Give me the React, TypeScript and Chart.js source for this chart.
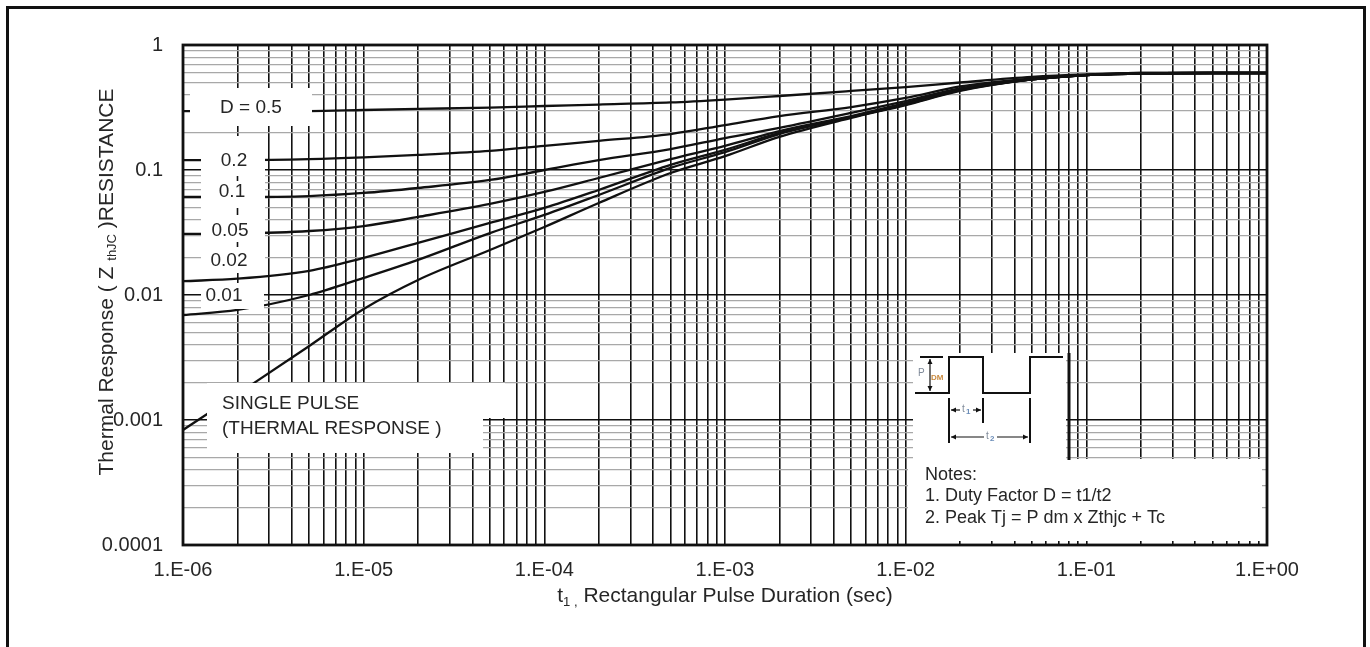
import React, { useEffect, useRef } from 'react';
import { Chart, registerables } from 'chart.js';

Chart.register(...registerables);

// ---------- data ----------
const pulseDurations = [1e-6, 2e-6, 5e-6, 1e-5, 2e-5, 5e-5, 1e-4, 2e-4, 5e-4, 1e-3, 2e-3, 5e-3, 1e-2, 2e-2, 5e-2, 1e-1, 2e-1, 5e-1, 1];

const zD050 = [0.296, 0.296, 0.296, 0.302, 0.308, 0.316, 0.325, 0.334, 0.347, 0.366, 0.391, 0.429, 0.461, 0.501, 0.555, 0.581, 0.597, 0.597, 0.597];
const zD020 = [0.120, 0.120, 0.122, 0.126, 0.132, 0.142, 0.156, 0.171, 0.194, 0.229, 0.270, 0.319, 0.377, 0.466, 0.540, 0.575, 0.597, 0.597, 0.597];
const zD010 = [0.0608, 0.0608, 0.0619, 0.0655, 0.0718, 0.0832, 0.100, 0.120, 0.147, 0.180, 0.217, 0.286, 0.356, 0.449, 0.530, 0.575, 0.592, 0.597, 0.597];
const zD005 = [0.0308, 0.0310, 0.0325, 0.0356, 0.0421, 0.0535, 0.0667, 0.0863, 0.122, 0.156, 0.205, 0.270, 0.344, 0.441, 0.530, 0.575, 0.592, 0.597, 0.597];
const zD002 = [0.0129, 0.0135, 0.0156, 0.0198, 0.0261, 0.0377, 0.0497, 0.0692, 0.110, 0.145, 0.198, 0.265, 0.337, 0.437, 0.530, 0.575, 0.592, 0.597, 0.597];
const zD001 = [0.00692, 0.00759, 0.0100, 0.0137, 0.0191, 0.0313, 0.0437, 0.0631, 0.104, 0.139, 0.194, 0.265, 0.334, 0.433, 0.530, 0.575, 0.592, 0.597, 0.597];
const zSingle = [0.000832, 0.00161, 0.00391, 0.00773, 0.0132, 0.0229, 0.0350, 0.0545, 0.0946, 0.129, 0.184, 0.261, 0.331, 0.429, 0.530, 0.575, 0.592, 0.597, 0.597];

const seriesNames = ['D = 0.5', '0.2', '0.1', '0.05', '0.02', '0.01', 'SINGLE PULSE'];
const seriesValues = [zD050, zD020, zD010, zD005, zD002, zD001, zSingle];

const xDecades = [1e-6, 1e-5, 1e-4, 1e-3, 1e-2, 1e-1, 1];
const xTickLabels = ['1.E-06', '1.E-05', '1.E-04', '1.E-03', '1.E-02', '1.E-01', '1.E+00'];
const yDecades = [1e-4, 1e-3, 1e-2, 1e-1, 1];
const yTickLabels = ['0.0001', '0.001', '0.01', '0.1', '1'];

const xTitleMain = 't';
const xTitleSub = '1 ,';
const xTitleRest = ' Rectangular Pulse Duration (sec)';
const yTitleA = 'Thermal Response ( Z ';
const yTitleSub = 'thJC';
const yTitleB = ' )RESISTANCE';
const singlePulseText = ['SINGLE PULSE', '(THERMAL RESPONSE )'];
const notesText = ['Notes:', '1. Duty Factor D = t1/t2', '2. Peak Tj = P dm x Zthjc + Tc'];

// ---------- helpers ----------
const FONT = '"Liberation Sans", Arial, Helvetica, sans-serif';
const TEXT = '#262626';

function logTicks(decades: number[]) {
  const out: { value: number }[] = [];
  for (let i = 0; i < decades.length - 1; i++) {
    for (let k = 1; k <= 9; k++) out.push({ value: decades[i] * k });
  }
  out.push({ value: decades[decades.length - 1] });
  return out;
}
function decadeIndex(v: number, decades: number[]) {
  return decades.findIndex((d) => Math.abs(Math.log10(v) - Math.log10(d)) < 1e-6);
}

const overlayPlugin = {
  id: 'overlay',
  afterDatasetsDraw(chart: any) {
    const ctx = chart.ctx as CanvasRenderingContext2D;
    const xs = chart.scales.x;
    ctx.save();
    // white label boxes covering grid and curves
    ctx.fillStyle = '#ffffff';
    ctx.fillRect(190, 88, 122, 38); // D = 0.5
    ctx.fillRect(201, 136, 64, 137); // 0.2 .. 0.02 column
    ctx.fillRect(201, 283, 63, 26); // 0.01
    ctx.fillRect(207, 383, 298, 35); // single pulse (upper)
    ctx.fillRect(207, 418, 276, 35); // single pulse (lower)
    ctx.fillRect(913, 353, 153, 107); // pulse diagram
    ctx.fillRect(908, 459, 354, 82); // notes

    // short grid pieces visible between the labels
    const x2 = Math.round(xs.getPixelForValue(2e-6)) + 0.5;
    ctx.strokeStyle = '#111';
    ctx.lineWidth = 1.6;
    [[176, 181], [208, 215], [242, 247]].forEach(([a, b]) => {
      ctx.beginPath();
      ctx.moveTo(x2, a);
      ctx.lineTo(x2, b);
      ctx.stroke();
    });

    // curve labels
    ctx.fillStyle = TEXT;
    ctx.font = `19px ${FONT}`;
    ctx.textAlign = 'center';
    ctx.textBaseline = 'middle';
    const labelPos = [[251, 108], [234, 161], [232, 192], [230, 231], [229, 261], [224, 296]];
    labelPos.forEach(([lx, ly], i) => ctx.fillText(seriesNames[i], lx, ly));
    ctx.textAlign = 'left';
    ctx.fillText(singlePulseText[0], 222, 404);
    ctx.fillText(singlePulseText[1], 222, 429);

    // notes
    ctx.font = `18px ${FONT}`;
    ctx.fillText(notesText[0], 925, 475);
    ctx.fillText(notesText[1], 925, 496);
    ctx.fillText(notesText[2], 925, 518);

    // pulse diagram
    ctx.strokeStyle = '#111';
    ctx.lineWidth = 2;
    ctx.beginPath();
    ctx.moveTo(915, 393);
    ctx.lineTo(949, 393);
    ctx.lineTo(949, 357);
    ctx.lineTo(983, 357);
    ctx.lineTo(983, 393);
    ctx.lineTo(1030, 393);
    ctx.lineTo(1030, 357);
    ctx.lineTo(1063, 357);
    ctx.stroke();
    ctx.beginPath();
    ctx.moveTo(920, 357);
    ctx.lineTo(943, 357);
    ctx.moveTo(949, 398);
    ctx.lineTo(949, 443);
    ctx.moveTo(983, 398);
    ctx.lineTo(983, 423);
    ctx.moveTo(1030, 398);
    ctx.lineTo(1030, 443);
    ctx.stroke();
    const x8 = Math.round(xs.getPixelForValue(0.08));
    ctx.lineWidth = 3;
    ctx.beginPath();
    ctx.moveTo(x8, 353);
    ctx.lineTo(x8, 460);
    ctx.stroke();
    // dimension arrows
    ctx.lineWidth = 1.2;
    const arrowH = (x0: number, x1: number, y: number) => {
      ctx.beginPath();
      ctx.moveTo(x0, y);
      ctx.lineTo(x1, y);
      ctx.stroke();
      ctx.beginPath();
      ctx.moveTo(x0, y); ctx.lineTo(x0 + 5, y - 2.5); ctx.lineTo(x0 + 5, y + 2.5); ctx.closePath();
      ctx.moveTo(x1, y); ctx.lineTo(x1 - 5, y - 2.5); ctx.lineTo(x1 - 5, y + 2.5); ctx.closePath();
      ctx.fillStyle = '#111';
      ctx.fill();
    };
    const arrowV = (x: number, y0: number, y1: number) => {
      ctx.beginPath();
      ctx.moveTo(x, y0);
      ctx.lineTo(x, y1);
      ctx.stroke();
      ctx.beginPath();
      ctx.moveTo(x, y0); ctx.lineTo(x - 2.5, y0 + 5); ctx.lineTo(x + 2.5, y0 + 5); ctx.closePath();
      ctx.moveTo(x, y1); ctx.lineTo(x - 2.5, y1 - 5); ctx.lineTo(x + 2.5, y1 - 5); ctx.closePath();
      ctx.fillStyle = '#111';
      ctx.fill();
    };
    arrowV(930, 359, 391);
    arrowH(951, 981, 410);
    arrowH(951, 1028, 437);
    // tiny coloured labels
    ctx.fillStyle = '#ffffff';
    ctx.fillRect(960, 404, 13, 11);
    ctx.fillRect(984, 431, 13, 11);
    ctx.textAlign = 'left';
    ctx.textBaseline = 'middle';
    ctx.font = `10px ${FONT}`;
    ctx.fillStyle = '#7f8a99';
    ctx.fillText('P', 918, 373);
    ctx.fillText('t', 962, 409);
    ctx.fillText('t', 986, 436);
    ctx.font = `bold 8px ${FONT}`;
    ctx.fillStyle = '#c98a3e';
    ctx.fillText('DM', 931, 378);
    ctx.fillStyle = '#6a8cb8';
    ctx.fillText('1', 966, 412);
    ctx.fillText('2', 990, 439);
    ctx.restore();
  },
  afterDraw(chart: any) {
    const ctx = chart.ctx as CanvasRenderingContext2D;
    const { left, top, right, bottom } = chart.chartArea;
    ctx.save();
    // plot frame
    ctx.strokeStyle = '#111';
    ctx.lineWidth = 2.8;
    ctx.strokeRect(left, top, right - left, bottom - top);
    // outer figure border
    ctx.lineWidth = 3;
    ctx.strokeRect(7.5, 7.5, 1357, 700);

    // x axis title
    ctx.fillStyle = TEXT;
    ctx.textBaseline = 'alphabetic';
    ctx.textAlign = 'left';
    const big = `21px ${FONT}`;
    const small = `13px ${FONT}`;
    ctx.font = big;
    const wT = ctx.measureText(xTitleMain).width;
    const wR = ctx.measureText(xTitleRest).width;
    ctx.font = small;
    const wS = ctx.measureText(xTitleSub).width;
    const total = wT + wS + wR;
    const cx = (left + right) / 2;
    let px = cx - total / 2;
    const base = 602;
    ctx.font = big;
    ctx.fillText(xTitleMain, px, base);
    px += wT;
    ctx.font = small;
    ctx.fillText(xTitleSub, px, base + 4);
    px += wS;
    ctx.font = big;
    ctx.fillText(xTitleRest, px, base);

    // y axis title (rotated)
    ctx.save();
    ctx.translate(113, 282);
    ctx.rotate(-Math.PI / 2);
    ctx.font = big;
    const wA = ctx.measureText(yTitleA).width;
    const wB = ctx.measureText(yTitleB).width;
    ctx.font = small;
    const wSub = ctx.measureText(yTitleSub).width;
    let p = -(wA + wSub + wB) / 2;
    ctx.font = big;
    ctx.fillText(yTitleA, p, 0);
    p += wA;
    ctx.font = small;
    ctx.fillText(yTitleSub, p, 3);
    p += wSub;
    ctx.font = big;
    ctx.fillText(yTitleB, p, 0);
    ctx.restore();

    ctx.restore();
  },
};

export default function App() {
  const canvasRef = useRef<HTMLCanvasElement | null>(null);

  useEffect(() => {
    document.body.style.margin = '0';
    const canvas = canvasRef.current;
    if (!canvas) return;

    const datasets = seriesValues.map((vals, i) => ({
      label: seriesNames[i],
      data: pulseDurations.map((t, j) => ({ x: t, y: vals[j] })),
      borderColor: '#111111',
      backgroundColor: '#111111',
      borderWidth: 2.3,
      pointRadius: 0,
      cubicInterpolationMode: 'monotone' as const,
      fill: false,
    }));

    const chart = new Chart(canvas, {
      type: 'line',
      data: { datasets },
      options: {
        responsive: false,
        devicePixelRatio: 1,
        animation: false,
        events: [],
        layout: { padding: { top: 45, right: 103, bottom: 0, left: 0 } },
        plugins: { legend: { display: false }, tooltip: { enabled: false }, title: { display: false } },
        scales: {
          x: {
            type: 'logarithmic',
            min: 1e-6,
            max: 1,
            afterBuildTicks: (s: any) => {
              s.ticks = logTicks(xDecades);
            },
            afterFit: (s: any) => {
              s.height = 102;
            },
            border: { display: false },
            grid: { color: '#111111', lineWidth: 1.6, drawTicks: false },
            ticks: {
              autoSkip: false,
              maxRotation: 0,
              padding: 13,
              color: TEXT,
              font: { family: FONT, size: 20 },
              callback: (v: any) => {
                const i = decadeIndex(Number(v), xDecades);
                return i >= 0 ? xTickLabels[i] : '';
              },
            },
          },
          y: {
            type: 'logarithmic',
            min: 1e-4,
            max: 1,
            afterBuildTicks: (s: any) => {
              s.ticks = logTicks(yDecades);
            },
            afterFit: (s: any) => {
              s.width = 183;
            },
            border: { display: false },
            grid: {
              drawTicks: false,
              color: (c: any) => (c.tick && decadeIndex(c.tick.value, yDecades) >= 0 ? '#111111' : '#a8a8a8'),
              lineWidth: (c: any) => (c.tick && decadeIndex(c.tick.value, yDecades) >= 0 ? 1.6 : 1.2),
            },
            ticks: {
              autoSkip: false,
              padding: 20,
              color: TEXT,
              font: { family: FONT, size: 20 },
              callback: (v: any) => {
                const i = decadeIndex(Number(v), yDecades);
                return i >= 0 ? yTickLabels[i] : '';
              },
            },
          },
        },
      },
      plugins: [overlayPlugin],
    });

    return () => chart.destroy();
  }, []);

  return (
    <div style={{ width: 1370, height: 647, position: 'relative', background: '#fff' }}>
      <canvas ref={canvasRef} width={1370} height={647} style={{ display: 'block' }} />
    </div>
  );
}
